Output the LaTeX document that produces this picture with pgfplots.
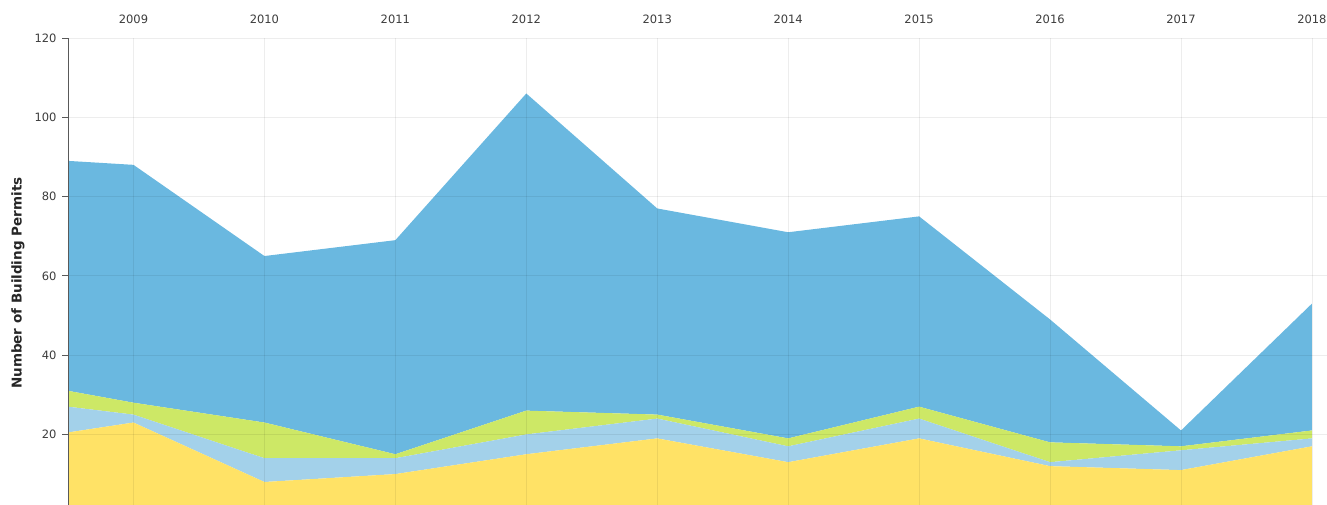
\documentclass[border=0pt]{standalone}
\usepackage{fontspec}
\setmainfont{DejaVu Sans}
\usepackage{pgfplots}
\pgfplotsset{compat=1.18}
\definecolor{cYel}{RGB}{255,226,102}
\definecolor{cLb}{RGB}{163,209,234}
\definecolor{cGr}{RGB}{205,232,102}
\definecolor{cBl}{RGB}{106,184,224}
\definecolor{cTxt}{RGB}{60,60,60}
\begin{document}
\begin{tikzpicture}[x=1pt,y=1pt]
\useasboundingbox (0,0) rectangle (1327,505);
\clip (0,0) rectangle (1327,505);
\begin{axis}[
  at={(68pt,0pt)}, anchor=south west,
  scale only axis, width=1259pt, height=467pt,
  xmin=2008.5, xmax=2018.115, ymin=2.2, ymax=120,
  stack plots=y,
  axis y line*=left, axis x line*=top,
  x axis line style={draw=none},
  y axis line style={draw=black!65, line width=0.9pt},
  xtick={2009,2010,...,2018},
  ytick={20,40,...,120},
  xtick style={draw=none},
  ytick style={draw=black!65, line width=0.8pt},
  tick align=outside, major tick length=6pt,
  xticklabel pos=top,
  /pgf/number format/1000 sep={},
  /pgf/number format/assume math mode=true,
  ticklabel style={font=\fontsize{11.5}{13}\selectfont, text=cTxt},
  xticklabel style={yshift=5pt},
  yticklabel style={xshift=-2pt},
  grid=major, grid style={black, opacity=0.07, line width=0.8pt},
  axis on top,
  ylabel={Number of Building Permits},
  every axis y label/.style={at={(axis description cs:-0.0397,0.475)}, rotate=90, anchor=center,
     font=\fontsize{13.5}{15}\selectfont\bfseries, text=black!85},
]
\addplot[fill=cYel, draw=none] coordinates {(2008.5,20.5) (2009,23) (2010,8) (2011,10) (2012,15) (2013,19) (2014,13) (2015,19) (2016,12) (2017,11) (2018,17)} \closedcycle;
\addplot[fill=cLb, draw=none] coordinates {(2008.5,6.5) (2009,2) (2010,6) (2011,4) (2012,5) (2013,5) (2014,4) (2015,5) (2016,1) (2017,5) (2018,2)} \closedcycle;
\addplot[fill=cGr, draw=none] coordinates {(2008.5,4) (2009,3) (2010,9) (2011,1) (2012,6) (2013,1) (2014,2) (2015,3) (2016,5) (2017,1) (2018,2)} \closedcycle;
\addplot[fill=cBl, draw=none] coordinates {(2008.5,58) (2009,60) (2010,42) (2011,54) (2012,80) (2013,52) (2014,52) (2015,48) (2016,31) (2017,4) (2018,32)} \closedcycle;
\end{axis}
\end{tikzpicture}
\end{document}
